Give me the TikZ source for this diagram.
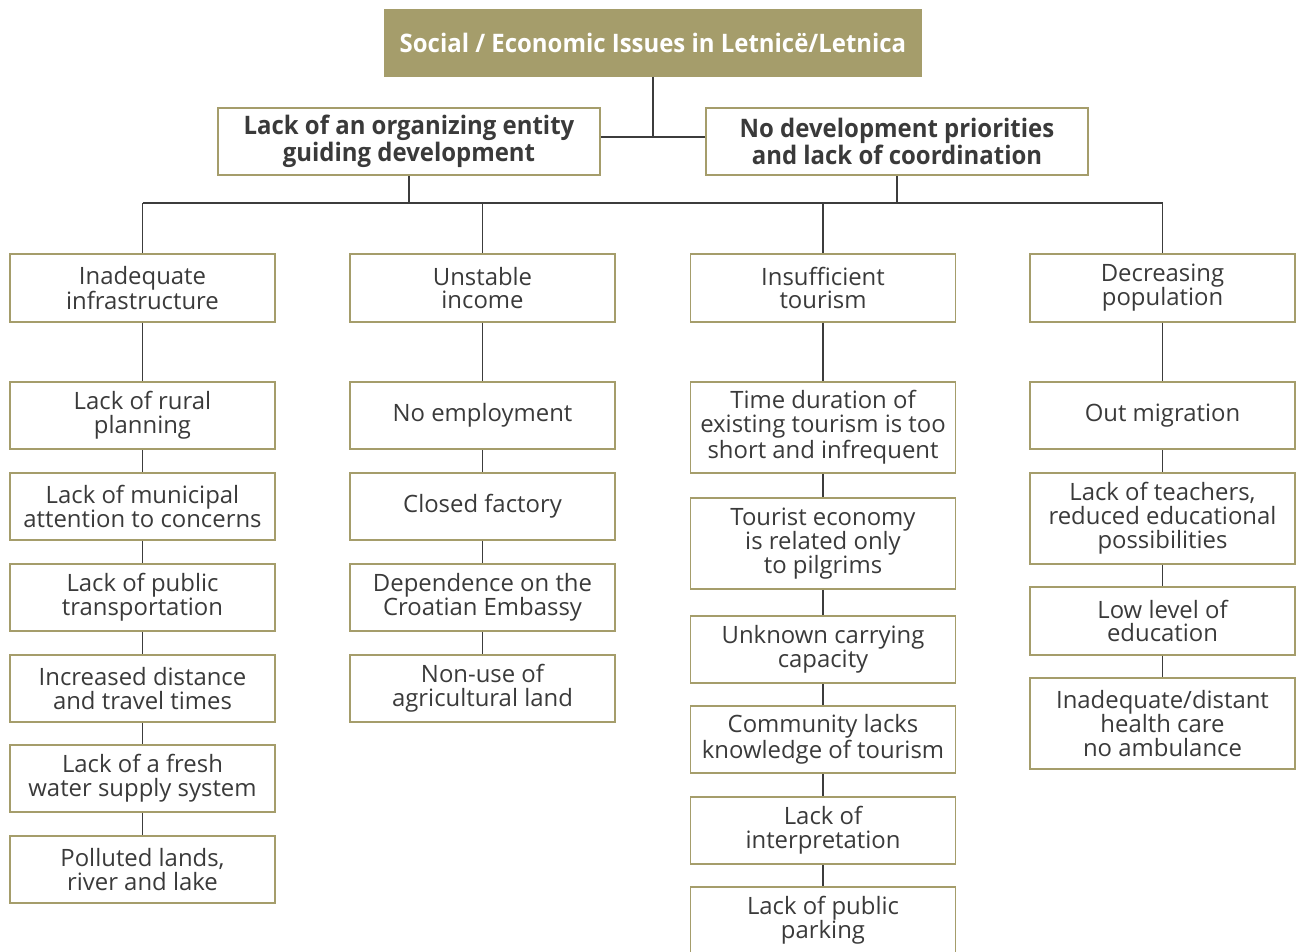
\documentclass[tikz,border=0pt]{standalone}
\usepackage{fontspec}
\setmainfont{Open Sans}
\newfontfamily\headfont{Open Sans}[FakeStretch=0.94]
\definecolor{oliveBox}{HTML}{A59D6B}
\definecolor{lineGray}{HTML}{3C3C3C}
\definecolor{textGray}{HTML}{3A3A3A}
\begin{document}
\begin{tikzpicture}
        [x=0.02cm, y=-0.02cm,
        box/.style={draw=oliveBox, line width=1.1pt, minimum width=5.3cm, minimum height=1.35cm, inner sep=0pt, align=center, text=textGray, font=\fontsize{13.6}{13.6}\selectfont},
        boxTall/.style={box, minimum height=1.82cm},
        boxHead/.style={box, minimum width=7.64cm, font=\headfont\bfseries\fontsize{14.5}{15.5}\selectfont},
        boxTitle/.style={boxHead, fill=oliveBox, text=white, minimum width=10.72cm, minimum height=1.32cm},
        link/.style={draw=lineGray, line width=1.1pt}]
        \useasboundingbox (0,0) rectangle (1296,951);
        % top
        \node[boxTitle] (title) at (653,43) {Social / Economic Issues in Letnicë/Letnica};
        \node[boxHead] (lackOrg) at (409,141.5) {Lack of an organizing entity\\guiding development};
        \node[boxHead] (noDev) at (897,141.5) {No development priorities\\and lack of coordination};
        \coordinate (join) at (653,137);
        \coordinate (bus) at (0,203);
        % column 1
        \node[box] (infra) at (142.5,288) {Inadequate\\infrastructure};
        \node[box] (rural) at (142.5,415.5) {Lack of rural\\planning};
        \node[box] (municipal) at (142.5,506.5) {Lack of municipal\\attention to concerns};
        \node[box] (transport) at (142.5,597.5) {Lack of public\\transportation};
        \node[box] (distance) at (142.5,688.5) {Increased distance\\and travel times};
        \node[box] (water) at (142.5,778.5) {Lack of a fresh\\water supply system};
        \node[box] (polluted) at (142.5,869.5) {Polluted lands,\\river and lake};
        % column 2
        \node[box] (income) at (482.5,288) {Unstable\\income};
        \node[box] (employ) at (482.5,415.5) {No employment};
        \node[box] (factory) at (482.5,506.5) {Closed factory};
        \node[box] (embassy) at (482.5,597.5) {Dependence on the\\Croatian Embassy};
        \node[box] (land) at (482.5,688.5) {Non-use of\\agricultural land};
        % column 3
        \node[box] (tourism) at (823,288) {Insufficient\\tourism};
        \node[boxTall] (duration) at (823,427.5) {Time duration of\\existing tourism is too\\short and infrequent};
        \node[boxTall] (pilgrims) at (823,543.5) {Tourist economy\\is related only\\to pilgrims};
        \node[box] (capacity) at (823,649.5) {Unknown carrying\\capacity};
        \node[box] (knowledge) at (823,739.5) {Community lacks\\knowledge of tourism};
        \node[box] (interpret) at (823,830.5) {Lack of\\interpretation};
        \node[box] (parking) at (823,920.5) {Lack of public\\parking};
        % column 4
        \node[box] (population) at (1162.5,288) {Decreasing\\population};
        \node[box] (migration) at (1162.5,415.5) {Out migration};
        \node[boxTall] (teachers) at (1162.5,518.5) {Lack of teachers,\\reduced educational\\possibilities};
        \node[box] (education) at (1162.5,621) {Low level of\\education};
        \node[boxTall] (health) at (1162.5,723.5) {Inadequate/distant\\health care\\no ambulance};

        \draw[link] (title) -- (join);
        \draw[link] (lackOrg.east |- join) -- (noDev.west |- join);
        \draw[link] (lackOrg) -- (lackOrg |- bus);
        \draw[link] (noDev) -- (noDev |- bus);
        \draw[link] (infra |- bus) -- (population |- bus);
        \foreach \n in {infra, income, tourism, population}
            \draw[link] (\n |- bus) -- (\n);
        \foreach \a/\b in {infra/rural, rural/municipal, municipal/transport, transport/distance, distance/water, water/polluted,
                income/employ, employ/factory, factory/embassy, embassy/land,
                tourism/duration, duration/pilgrims, pilgrims/capacity, capacity/knowledge, knowledge/interpret, interpret/parking,
                population/migration, migration/teachers, teachers/education, education/health}
            \draw[link] (\a) -- (\b);
    \end{tikzpicture}
\end{document}
